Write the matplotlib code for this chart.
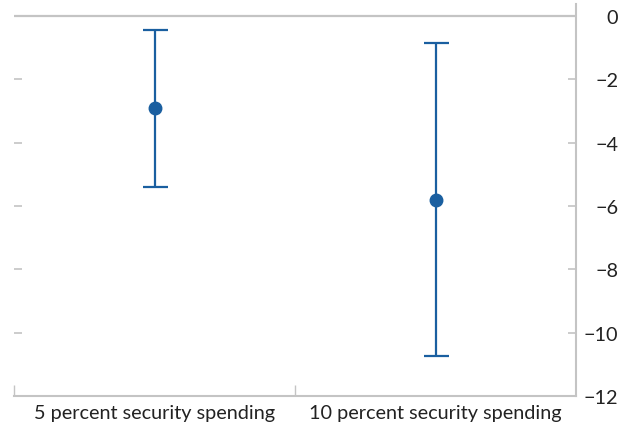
import numpy as np
import matplotlib.pyplot as plt

plt.rcParams['font.family'] = ['Lato', 'DejaVu Sans']

# data
categories = ["5 percent security spending", "10 percent security spending"]
estimate = [-2.9, -5.8]
lower = [-5.4, -10.75]
upper = [-0.43, -0.85]

blue = "#1a5fa0"
grey = "#c4c4c4"
text_col = "#222222"

fig = plt.figure(figsize=(6.27, 4.31), dpi=100)
ax = fig.add_axes([14/627, 1 - 397/431, (576 - 14)/627, (397 - 5)/431])

x = np.arange(len(categories))
est = np.array(estimate)
yerr = [est - np.array(lower), np.array(upper) - est]
ax.errorbar(x, est, yerr=yerr, fmt='o', color=blue, ecolor=blue,
            markersize=9, elinewidth=1.6, capsize=9, capthick=1.6, zorder=3)

ax.axhline(0, color=grey, linewidth=1.6, zorder=1)

ax.set_xlim(-0.5, 1.5)
ax.set_ylim(-12, 0.38)
ax.set_yticks(np.arange(-12, 1, 2))
ax.set_yticklabels([str(v).replace('-', '\u2212') for v in range(-12, 1, 2)],
                   ha='right')

# category labels between the boundary ticks
ax.set_xticks([-0.5, 0.5])
ax.set_xticklabels([])
ax.set_xticks(x, minor=True)
ax.set_xticklabels(categories, minor=True, fontsize=14.3, color=text_col)
ax.tick_params(axis='x', which='major', direction='in', length=8, color=grey, width=1)
ax.tick_params(axis='x', which='minor', length=0, pad=6)

ax.yaxis.tick_right()
ax.tick_params(axis='y', which='both', direction='in', left=True, right=True,
               length=6, color=grey, width=1.2, labelsize=14.3,
               labelcolor=text_col, pad=30.5)

for side in ['top', 'left']:
    ax.spines[side].set_visible(False)
for side in ['right', 'bottom']:
    ax.spines[side].set_color(grey)
    ax.spines[side].set_linewidth(1.5)

fig.savefig("out.png", dpi=100)
